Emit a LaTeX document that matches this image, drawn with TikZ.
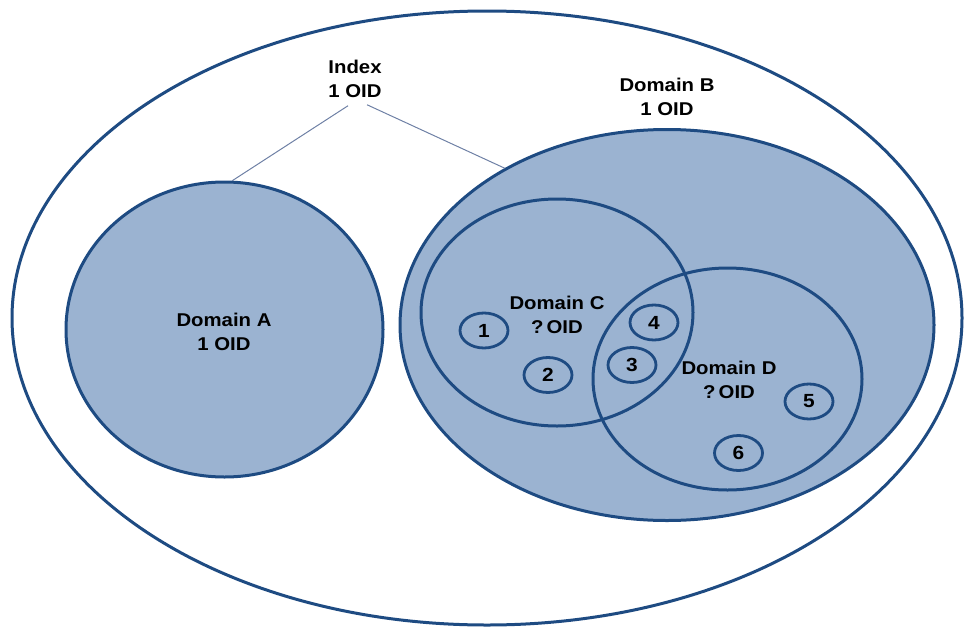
\documentclass[tikz,border=0pt]{standalone}
\usepackage{fontspec}
\setmainfont{Liberation Sans}[FakeStretch=1.1]
\usetikzlibrary{shapes.geometric}
\definecolor{fillblue}{RGB}{155,179,209}
\definecolor{edgeblue}{RGB}{30,75,130}
\definecolor{linkblue}{RGB}{110,128,165}
\begin{document}
\begin{tikzpicture}[x=1pt,y=-1pt,
  region/.style={ellipse, draw=edgeblue, line width=3pt, inner sep=0pt},
  filledregion/.style={region, fill=fillblue},
  txt/.style={font=\bfseries\fontsize{18.5}{23.5}\selectfont, align=center, text=black, inner sep=0pt},
  item/.style={ellipse, draw=edgeblue, line width=2.8pt, minimum width=48pt, minimum height=35pt, inner sep=0pt, font=\bfseries\fontsize{19}{20}\selectfont},
  link/.style={draw=linkblue, line width=1pt}]
\useasboundingbox (0,0) rectangle (966,629);
% outer
\node[region, minimum width=950pt, minimum height=614pt] (outer) at (487,318) {};
% domains
\node[filledregion, minimum width=317pt, minimum height=295pt] (A) at (224.5,329.5) {};
\node[filledregion, minimum width=534pt, minimum height=391pt] (B) at (667,325) {};
\node[region, minimum width=272pt, minimum height=227pt] (C) at (557,312.5) {};
\node[region, minimum width=269pt, minimum height=222pt] (D) at (727.5,379) {};
% items
\node[item] (i1) at (484,330.5) {1};
\node[item] (i2) at (548,375) {2};
\node[item] (i3) at (632,365) {3};
\node[item] (i4) at (654,322.5) {4};
\node[item] (i5) at (809,401.5) {5};
\node[item] (i6) at (738.5,453) {6};
% labels
\node[txt] (index) at (355,79) {Index\\1 OID};
\node[txt] (Blab) at (667,97) {Domain B\\1 OID};
\node[txt] (Alab) at (224,332) {Domain A\\1 OID};
\node[txt] (Clab) at (557,315) {Domain C\\?\,OID};
\node[txt] (Dlab) at (729,380) {Domain D\\?\,OID};
% connectors
\draw[link] ([xshift=-7pt,yshift=-8pt]index.south) -- (A.87);
\draw[link] ([xshift=12pt,yshift=-7pt]index.south) -- (B.136);
\end{tikzpicture}
\end{document}
